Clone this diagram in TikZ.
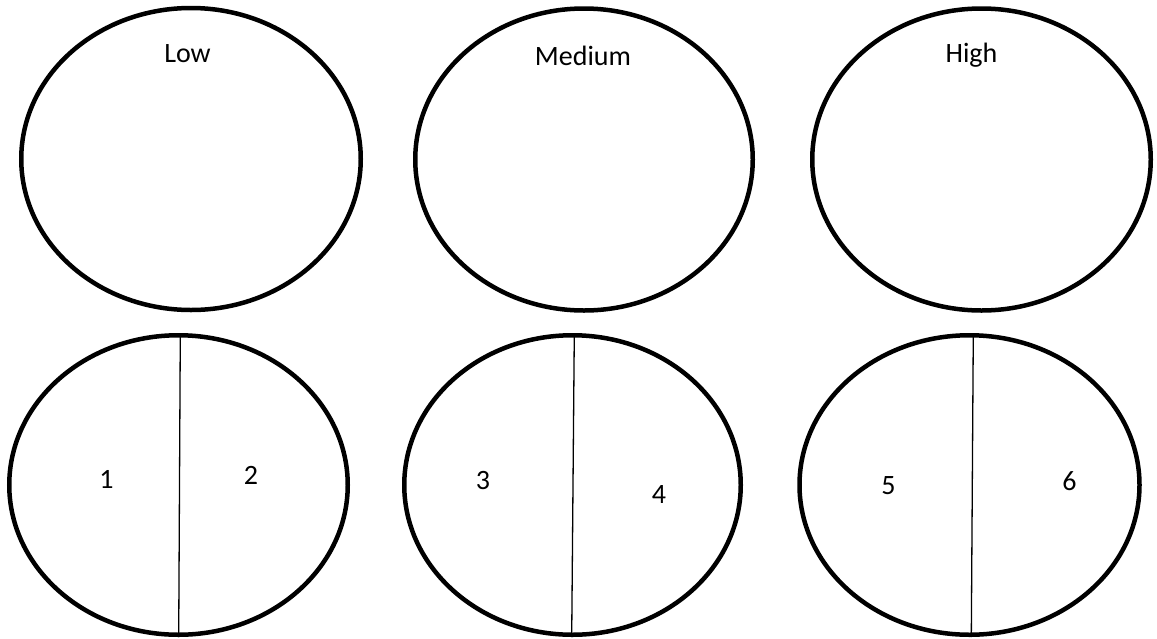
\documentclass[tikz,border=0pt]{standalone}
\usepackage{fontspec}
\setmainfont{Carlito}
\usetikzlibrary{shapes.geometric}
\begin{document}
\begin{tikzpicture}[x=1pt,y=-1pt,
  oval/.style={draw=black, line width=4.5pt, ellipse, inner sep=0pt},
  divider/.style={draw=black, line width=1.3pt},
  lbl/.style={anchor=base, inner sep=0pt, font=\fontsize{28}{30}\selectfont}]
\useasboundingbox[fill=white] (0,0) rectangle (1157,638);
% top row
\node[oval, minimum width=339.5pt, minimum height=302pt] (low) at (191,159) {};
\node[oval, minimum width=337.5pt, minimum height=302pt] (med) at (584,159.5) {};
\node[oval, minimum width=338.5pt, minimum height=302pt] (high) at (981.5,159.5) {};
\node[lbl] (tlow) at (187.5,62.3) {Low};
\node[lbl] (tmed) at (583,65) {Medium};
\node[lbl] (thigh) at (971.5,62.3) {High};
% bottom row
\node[oval, minimum width=338.5pt, minimum height=299.5pt] (b1) at (178.5,485) {};
\node[oval, minimum width=336.5pt, minimum height=299.5pt] (b2) at (572.5,485) {};
\node[oval, minimum width=340pt, minimum height=299.5pt] (b3) at (969.5,485) {};
\coordinate (d1t) at (180.3,333);
\coordinate (d1b) at (178.7,637);
\coordinate (d2t) at (574.3,333);
\coordinate (d2b) at (571.7,637);
\coordinate (d3t) at (973.3,333);
\coordinate (d3b) at (971.3,637);
\draw[divider] (d1t) -- (d1b);
\draw[divider] (d2t) -- (d2b);
\draw[divider] (d3t) -- (d3b);
\node[lbl] (n1) at (106.5,488) {1};
\node[lbl] (n2) at (251,484) {2};
\node[lbl] (n3) at (483,489) {3};
\node[lbl] (n4) at (659,503) {4};
\node[lbl] (n5) at (888.5,494) {5};
\node[lbl] (n6) at (1069.5,490) {6};
\end{tikzpicture}
\end{document}
